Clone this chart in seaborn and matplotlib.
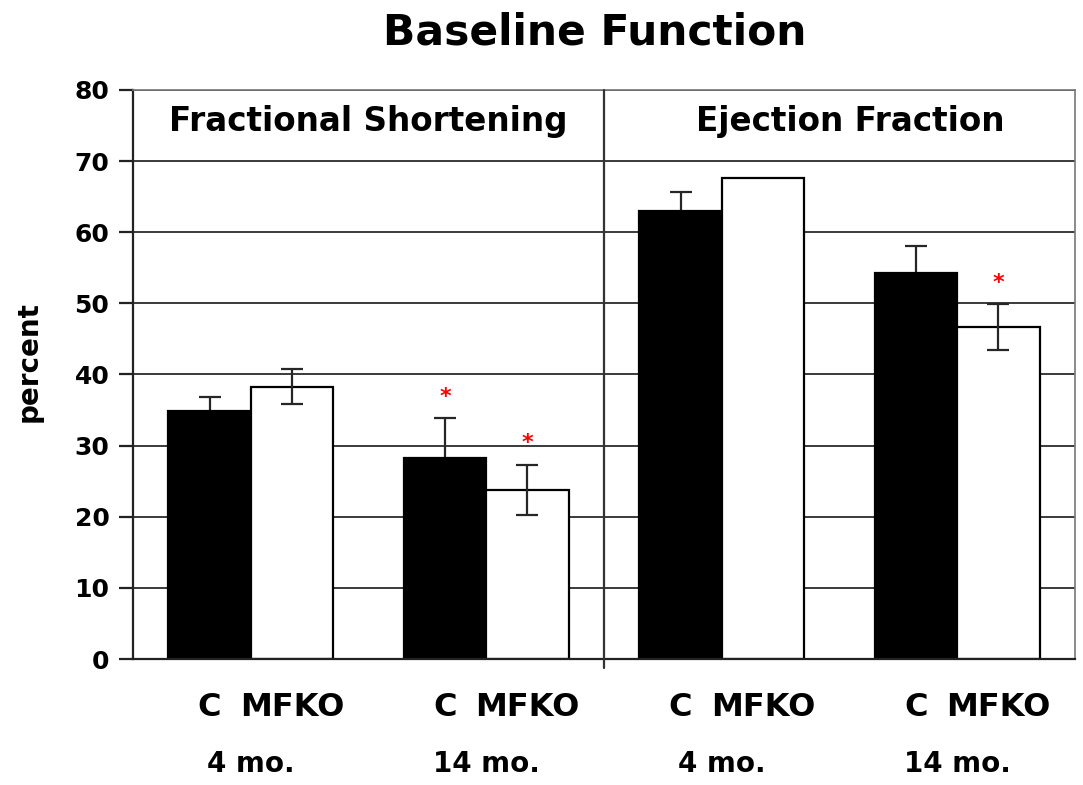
import numpy as np
import pandas as pd
import matplotlib
matplotlib.use("Agg")
import matplotlib.pyplot as plt
import seaborn as sns
from matplotlib.transforms import blended_transform_factory

# Echocardiographic baseline function: group means and error bars (percent)
measures = ["Fractional Shortening", "Fractional Shortening",
            "Ejection Fraction", "Ejection Fraction"]
ages = ["4 mo.", "14 mo.", "4 mo.", "14 mo."]
genotypes = ["C", "MFKO"]
control_mean = [34.9, 28.2, 63.0, 54.3]
control_err = [2.0, 5.7, 2.6, 3.8]
mfko_mean = [38.3, 23.8, 67.6, 46.7]
mfko_err = [2.5, 3.5, 0.0, 3.2]
control_sig = [False, True, False, False]
mfko_sig = [False, True, False, True]
yticks = [0, 10, 20, 30, 40, 50, 60, 70, 80]

slots = [f"{m} {a}" for m, a in zip(measures, ages)]
rows = []
for i, s in enumerate(slots):
    rows.append({"slot": s, "genotype": "C", "value": control_mean[i], "err": control_err[i], "sig": control_sig[i]})
    rows.append({"slot": s, "genotype": "MFKO", "value": mfko_mean[i], "err": mfko_err[i], "sig": mfko_sig[i]})
df = pd.DataFrame(rows)

sns.set_style("white")
plt.rcParams["font.family"] = ["DejaVu Sans"]
plt.rcParams["font.weight"] = "bold"
for key in ["text.color", "axes.labelcolor", "xtick.color", "ytick.color"]:
    plt.rcParams[key] = "black"

fig = plt.figure(figsize=(10.83, 7.85), dpi=100)
ax = fig.add_axes([0.1228, 0.1605, 0.8698, 0.7249])
ax.set_axisbelow(True)

sns.barplot(data=df, x="slot", y="value", hue="genotype", order=slots,
            hue_order=genotypes, palette={"C": "black", "MFKO": "white"},
            edgecolor="black", linewidth=1.6, width=0.7, errorbar=None,
            legend=False, ax=ax)

ax.set_xlim(-0.5, 3.5)
ax.set_ylim(0, 80)
ax.yaxis.grid(True, color="#3a3a3a", linewidth=1.4)
ax.xaxis.grid(False)

# error bars (control bars hide their lower half) and significance marks
label_x, label_txt = [], []
for cont, g in zip(ax.containers, genotypes):
    sub = df[df["genotype"] == g].reset_index(drop=True)
    z = 0.9 if g == "C" else 5
    for bar, (_, r) in zip(cont.patches, sub.iterrows()):
        xc = bar.get_x() + bar.get_width() / 2
        label_x.append(xc)
        label_txt.append(g)
        if r["err"] > 0:
            ax.errorbar(xc, r["value"], yerr=r["err"], fmt="none",
                        ecolor="#262626", elinewidth=1.6, capsize=8,
                        capthick=1.6, zorder=z)
        if r["sig"]:
            ax.text(xc, r["value"] + r["err"] + 3.0, "*", color="red",
                    ha="center", va="center", fontsize=16, zorder=6)

# genotype labels under each bar, boundary ticks between groups
ax.set_xticks(label_x)
ax.set_xticklabels(label_txt, fontsize=23, fontweight="bold")
ax.tick_params(axis="x", which="major", length=0, pad=24)
ax.set_xticks([-0.5, 0.5, 1.5, 2.5, 3.5], minor=True)
ax.tick_params(axis="x", which="minor", length=10, width=1.6, direction="out", color="black")
ax.set_xlabel("")

ax.set_yticks(yticks)
ax.set_yticklabels([str(t) for t in yticks], fontsize=18, fontweight="bold")
ax.tick_params(axis="y", length=10, width=1.6, direction="out", pad=7, color="#222222", left=True)
ax.set_ylabel("")

for side in ["left", "bottom"]:
    ax.spines[side].set_color("#222222")
    ax.spines[side].set_linewidth(1.6)
for side in ["top", "right"]:
    ax.spines[side].set_color("#777777")
    ax.spines[side].set_linewidth(1.2)

# divider between the two panels
ax.axvline(1.5, ymin=-0.016, ymax=1, color="#333333", linewidth=1.6, clip_on=False, zorder=4)

# age labels under each pair
trans = blended_transform_factory(ax.transData, ax.transAxes)
for i, a in enumerate(ages):
    ax.text(i, -0.185, a, transform=trans, ha="center", va="center",
            fontsize=20, fontweight="bold")

# panel headings
ax.text(0.5, 75.6, "Fractional Shortening", ha="center", va="center",
        fontsize=23.5, fontweight="bold")
ax.text(2.545, 75.6, "Ejection Fraction", ha="center", va="center",
        fontsize=23.5, fontweight="bold")

fig.text(0.549, 0.958, "Baseline Function", ha="center", va="center",
         fontsize=30.5, fontweight="bold")
fig.text(0.026, 0.539, "percent", rotation=90, ha="center", va="center",
         fontsize=20, fontweight="bold")

fig.savefig("out.png", dpi=100, facecolor="white")
